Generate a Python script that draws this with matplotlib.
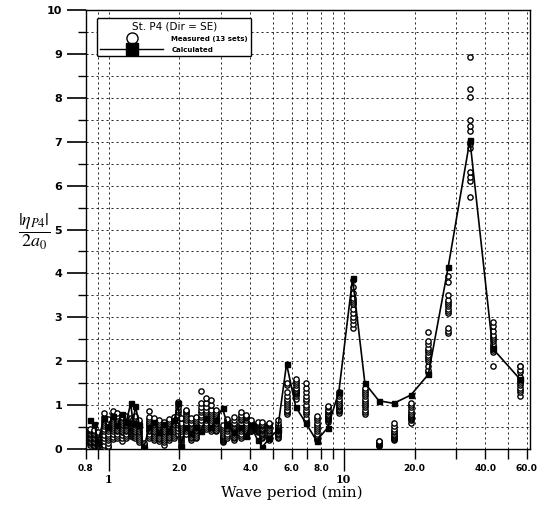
import matplotlib
matplotlib.use("Agg")
import matplotlib.pyplot as plt
from matplotlib.lines import Line2D

# wave periods (min) of the computed points
periods = [0.83, 0.87, 0.90, 0.955, 0.99, 1.04, 1.09, 1.14, 1.19, 1.24,
           1.27, 1.30, 1.35, 1.41, 1.49, 1.56, 1.64, 1.72, 1.81, 1.90,
           1.98, 2.03, 2.13, 2.23, 2.35, 2.46, 2.59, 2.72, 2.86, 3.05,
           3.20, 3.42, 3.65, 3.83, 4.02, 4.30, 4.51, 4.82, 5.23, 5.71,
           6.25, 6.90, 7.66, 8.53, 9.53, 10.9, 12.3, 14.1, 16.3, 19.3,
           22.9, 27.8, 34.4, 43.0, 56.2]

calculated = [0.66, 0.57, 0.17, 0.70, 0.50, 0.75, 0.55, 0.80, 0.62, 1.04,
              0.60, 0.98, 0.55, 0.03, 0.50, 0.62, 0.38, 0.58, 0.42, 0.66,
              1.04, 0.08, 0.51, 0.36, 0.51, 0.40, 0.70, 0.50, 0.66, 0.93,
              0.55, 0.39, 0.51, 0.30, 0.55, 0.20, 0.05, 0.24, 0.43, 1.94,
              0.96, 0.59, 0.19, 0.48, 1.30, 3.89, 1.50, 1.10, 1.04, 1.23,
              1.70, 4.14, 7.04, 2.29, 1.59]

# 13 measured sets at each period
measured = [
    [0.10, 0.13, 0.16, 0.19, 0.22, 0.25, 0.28, 0.31, 0.34, 0.37, 0.40, 0.43, 0.46],
    [0.08, 0.10, 0.13, 0.16, 0.19, 0.22, 0.25, 0.28, 0.31, 0.34, 0.37, 0.40, 0.44],
    [0.08, 0.10, 0.12, 0.14, 0.16, 0.18, 0.20, 0.22, 0.25, 0.28, 0.31, 0.34, 0.38],
    [0.05, 0.10, 0.18, 0.25, 0.32, 0.40, 0.46, 0.52, 0.58, 0.62, 0.66, 0.72, 0.82],
    [0.04, 0.08, 0.14, 0.20, 0.25, 0.30, 0.35, 0.40, 0.45, 0.50, 0.55, 0.62, 0.68],
    [0.22, 0.28, 0.34, 0.40, 0.45, 0.50, 0.55, 0.60, 0.64, 0.68, 0.72, 0.80, 0.86],
    [0.25, 0.30, 0.35, 0.40, 0.44, 0.48, 0.52, 0.56, 0.60, 0.64, 0.70, 0.76, 0.82],
    [0.18, 0.25, 0.32, 0.38, 0.42, 0.46, 0.50, 0.54, 0.58, 0.62, 0.66, 0.70, 0.74],
    [0.25, 0.30, 0.35, 0.40, 0.44, 0.48, 0.52, 0.55, 0.58, 0.62, 0.65, 0.70, 0.75],
    [0.30, 0.34, 0.38, 0.42, 0.45, 0.48, 0.50, 0.53, 0.56, 0.59, 0.62, 0.65, 0.70],
    [0.28, 0.32, 0.36, 0.40, 0.44, 0.47, 0.50, 0.53, 0.56, 0.59, 0.62, 0.65, 0.68],
    [0.25, 0.30, 0.34, 0.38, 0.42, 0.46, 0.50, 0.54, 0.58, 0.62, 0.66, 0.70, 0.75],
    [0.15, 0.20, 0.25, 0.30, 0.34, 0.38, 0.42, 0.46, 0.50, 0.54, 0.58, 0.62, 0.66],
    [0.00, 0.01, 0.02, 0.03, 0.04, 0.05, 0.06, 0.07, 0.08, 0.09, 0.10, 0.12, 0.14],
    [0.25, 0.30, 0.35, 0.40, 0.44, 0.48, 0.52, 0.56, 0.60, 0.64, 0.68, 0.74, 0.87],
    [0.20, 0.25, 0.30, 0.34, 0.38, 0.42, 0.46, 0.50, 0.54, 0.58, 0.62, 0.66, 0.70],
    [0.18, 0.22, 0.26, 0.30, 0.34, 0.38, 0.42, 0.46, 0.50, 0.54, 0.58, 0.62, 0.66],
    [0.10, 0.15, 0.20, 0.25, 0.30, 0.34, 0.38, 0.42, 0.46, 0.50, 0.54, 0.58, 0.62],
    [0.20, 0.24, 0.28, 0.32, 0.36, 0.40, 0.44, 0.48, 0.52, 0.56, 0.60, 0.64, 0.68],
    [0.25, 0.30, 0.34, 0.38, 0.42, 0.46, 0.50, 0.54, 0.58, 0.62, 0.66, 0.70, 0.72],
    [0.35, 0.42, 0.48, 0.54, 0.60, 0.66, 0.72, 0.78, 0.84, 0.90, 0.96, 1.02, 1.08],
    [0.05, 0.10, 0.15, 0.20, 0.25, 0.30, 0.35, 0.40, 0.45, 0.50, 0.55, 0.60, 0.71],
    [0.35, 0.40, 0.45, 0.50, 0.55, 0.60, 0.65, 0.70, 0.75, 0.80, 0.84, 0.87, 0.89],
    [0.20, 0.24, 0.28, 0.32, 0.36, 0.40, 0.44, 0.48, 0.52, 0.56, 0.60, 0.65, 0.70],
    [0.25, 0.28, 0.32, 0.36, 0.40, 0.44, 0.48, 0.52, 0.56, 0.60, 0.64, 0.68, 0.72],
    [0.40, 0.45, 0.50, 0.55, 0.60, 0.66, 0.72, 0.78, 0.84, 0.90, 0.96, 1.05, 1.33],
    [0.45, 0.50, 0.55, 0.60, 0.65, 0.70, 0.75, 0.80, 0.85, 0.90, 0.95, 1.05, 1.17],
    [0.40, 0.45, 0.50, 0.55, 0.60, 0.65, 0.70, 0.75, 0.80, 0.85, 0.90, 1.00, 1.12],
    [0.40, 0.44, 0.48, 0.52, 0.56, 0.60, 0.64, 0.68, 0.72, 0.76, 0.80, 0.85, 0.90],
    [0.15, 0.18, 0.20, 0.22, 0.25, 0.28, 0.30, 0.33, 0.36, 0.40, 0.45, 0.50, 0.55],
    [0.25, 0.30, 0.35, 0.40, 0.45, 0.48, 0.52, 0.55, 0.58, 0.60, 0.62, 0.65, 0.68],
    [0.20, 0.24, 0.28, 0.32, 0.36, 0.40, 0.44, 0.48, 0.52, 0.56, 0.60, 0.66, 0.72],
    [0.25, 0.30, 0.35, 0.40, 0.45, 0.50, 0.55, 0.60, 0.65, 0.68, 0.72, 0.78, 0.85],
    [0.30, 0.35, 0.40, 0.45, 0.50, 0.55, 0.60, 0.65, 0.70, 0.72, 0.74, 0.76, 0.78],
    [0.40, 0.42, 0.44, 0.46, 0.48, 0.50, 0.52, 0.54, 0.56, 0.58, 0.60, 0.62, 0.65],
    [0.38, 0.40, 0.42, 0.44, 0.46, 0.48, 0.50, 0.52, 0.54, 0.56, 0.58, 0.60, 0.62],
    [0.25, 0.28, 0.31, 0.34, 0.37, 0.40, 0.43, 0.46, 0.49, 0.52, 0.55, 0.58, 0.62],
    [0.20, 0.24, 0.28, 0.32, 0.36, 0.40, 0.44, 0.48, 0.52, 0.54, 0.56, 0.58, 0.60],
    [0.25, 0.28, 0.31, 0.34, 0.37, 0.40, 0.43, 0.46, 0.49, 0.52, 0.55, 0.60, 0.65],
    [0.80, 0.85, 0.88, 0.90, 0.95, 1.00, 1.05, 1.10, 1.15, 1.20, 1.30, 1.45, 1.50],
    [1.15, 1.20, 1.25, 1.28, 1.30, 1.32, 1.35, 1.38, 1.40, 1.45, 1.50, 1.55, 1.60],
    [0.65, 0.70, 0.80, 0.85, 0.90, 0.95, 1.00, 1.10, 1.15, 1.20, 1.30, 1.40, 1.50],
    [0.20, 0.24, 0.27, 0.30, 0.35, 0.40, 0.45, 0.50, 0.55, 0.60, 0.65, 0.70, 0.75],
    [0.62, 0.65, 0.68, 0.70, 0.72, 0.75, 0.78, 0.80, 0.85, 0.87, 0.90, 0.95, 0.97],
    [0.83, 0.87, 0.90, 0.92, 0.95, 0.98, 1.00, 1.05, 1.10, 1.15, 1.20, 1.25, 1.30],
    [2.75, 2.85, 2.95, 3.00, 3.10, 3.20, 3.30, 3.35, 3.40, 3.45, 3.55, 3.70, 3.85],
    [0.80, 0.85, 0.90, 0.95, 1.00, 1.05, 1.10, 1.15, 1.20, 1.25, 1.30, 1.35, 1.40],
    [0.08, 0.09, 0.10, 0.11, 0.12, 0.13, 0.13, 0.14, 0.15, 0.16, 0.17, 0.18, 0.18],
    [0.20, 0.22, 0.24, 0.26, 0.28, 0.30, 0.33, 0.35, 0.38, 0.40, 0.45, 0.52, 0.60],
    [0.60, 0.65, 0.68, 0.70, 0.72, 0.75, 0.78, 0.80, 0.85, 0.90, 0.95, 1.00, 1.05],
    [1.75, 1.80, 1.90, 2.00, 2.05, 2.10, 2.15, 2.20, 2.25, 2.30, 2.40, 2.45, 2.67],
    [2.65, 2.70, 2.75, 3.10, 3.15, 3.20, 3.25, 3.30, 3.35, 3.40, 3.50, 3.80, 3.95],
    [5.75, 6.10, 6.20, 6.30, 6.85, 6.95, 7.00, 7.25, 7.35, 7.50, 8.03, 8.20, 8.92],
    [1.90, 2.20, 2.25, 2.30, 2.35, 2.40, 2.45, 2.50, 2.55, 2.60, 2.70, 2.80, 2.90],
    [1.20, 1.30, 1.35, 1.40, 1.45, 1.50, 1.55, 1.60, 1.65, 1.75, 1.80, 1.90, 1.90],
]

major_ticks = [0.8, 1, 2, 4, 6, 8, 10, 20, 40, 60]
major_labels = ["0.8", "1", "2.0", "4.0", "6.0", "8.0", "10", "20.0", "40.0", "60.0"]
minor_ticks = [0.9, 3, 5, 7, 9, 30, 50]

fig = plt.figure(figsize=(5.47, 5.17), dpi=100)
ax = fig.add_axes([0.157, 0.1315, 0.812, 0.849])

# measured: open circles
for t, vals in zip(periods, measured):
    ax.plot([t] * len(vals), vals, linestyle="none", marker="o", markersize=3.8,
            markerfacecolor="white", markeredgecolor="black", markeredgewidth=1.0,
            zorder=3)

# calculated: line with filled squares
ax.plot(periods, calculated, color="black", linewidth=1.2, marker="s",
        markersize=3.6, markerfacecolor="black", zorder=4)

ax.set_xscale("log")
ax.set_xlim(0.8, 62)
ax.set_ylim(0, 10)

ax.set_xticks(major_ticks)
ax.set_xticklabels(major_labels)
ax.set_xticks(minor_ticks, minor=True)
ax.set_xticklabels([], minor=True)
ax.set_yticks(range(0, 11))
ax.set_yticks([i + 0.5 for i in range(10)], minor=True)

ax.tick_params(axis="x", which="major", direction="out", length=7, width=1,
               labelsize=6.5, pad=4)
ax.tick_params(axis="x", which="minor", direction="out", length=7, width=1)
ax.tick_params(axis="y", which="major", direction="out", length=14, width=1.2,
               labelsize=8, pad=3)
ax.tick_params(axis="y", which="minor", direction="out", length=6, width=1)
for lbl in ax.get_xticklabels() + ax.get_yticklabels():
    lbl.set_fontweight("bold")

# longer ticks and lower labels at 1 and 10
for tk, val in zip(ax.xaxis.get_major_ticks(), major_ticks):
    if val in (1, 10):
        tk.set_pad(11)
        tk.tick1line.set_markersize(16)
        tk.label1.set_fontfamily("DejaVu Serif")
        tk.label1.set_fontsize(8)

ax.grid(which="both", color="black", linestyle=(0, (2.5, 3.5)), linewidth=0.6)
ax.set_axisbelow(True)
for s in ax.spines.values():
    s.set_linewidth(1.0)

leg_handles = [
    Line2D([], [], linestyle="none", marker="o", markersize=8,
           markerfacecolor="white", markeredgecolor="black"),
    Line2D([], [], color="black", linewidth=1.0, marker="s", markersize=8,
           markerfacecolor="black"),
]
leg = ax.legend(leg_handles, ["Measured (13 sets)", "Calculated"],
                title="St. P4 (Dir = SE)", loc="upper left",
                bbox_to_anchor=(0.018, 0.99), fontsize=5, title_fontsize=7.5,
                handlelength=9, handletextpad=1.2, labelspacing=0.7,
                borderpad=0.45, frameon=True, fancybox=True, framealpha=1,
                edgecolor="black")
leg.get_frame().set_linewidth(1.0)
for txt in leg.get_texts():
    txt.set_fontweight("bold")

fig.text(34 / 547, 1 - 232 / 517, r"$\dfrac{|\eta_{P4}|}{2a_0}$",
         fontsize=13, ha="center", va="center", math_fontfamily="stix")
fig.text(292 / 547, 1 - 493 / 517, "Wave period (min)", fontsize=11,
         family="DejaVu Serif", ha="center", va="center")

fig.savefig("out.png", dpi=100)
